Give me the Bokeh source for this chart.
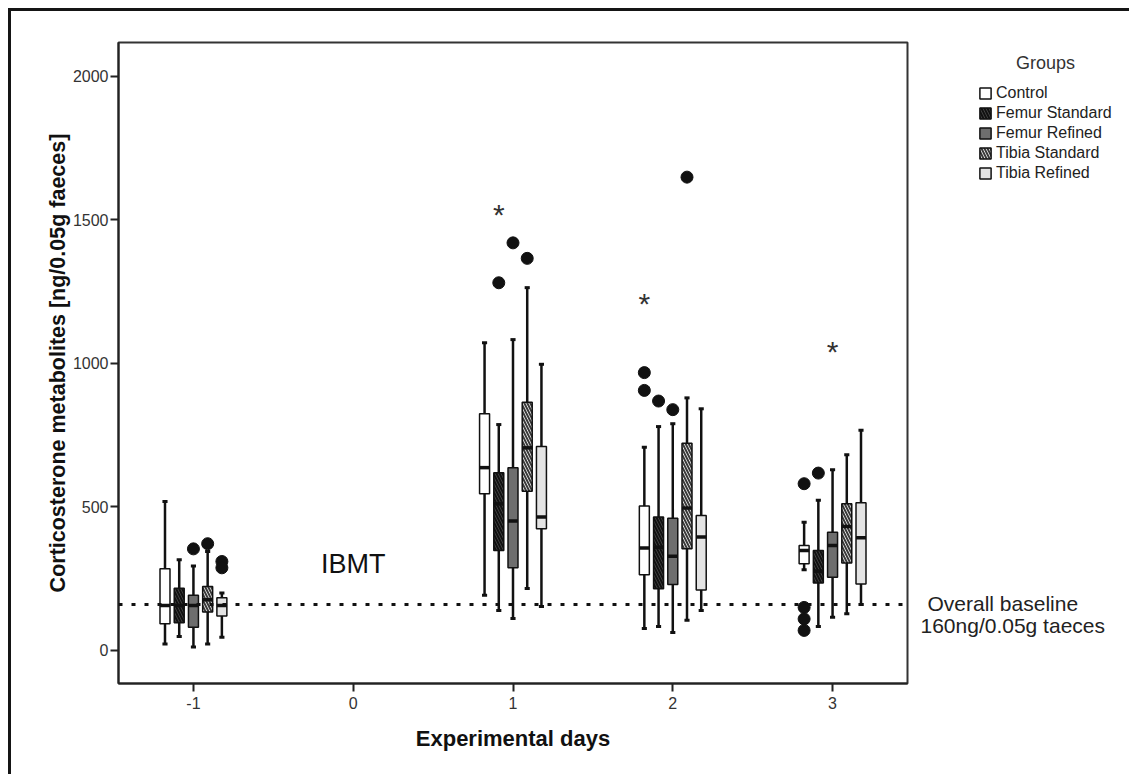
from bokeh.plotting import figure
from bokeh.layouts import row
from bokeh.models import Range1d, Span, Label, Legend, LegendItem, ColumnDataSource, FixedTicker
from bokeh.embed import file_html
from bokeh.resources import INLINE
from bokeh.core.properties import value

# ---------------- data ----------------
groups = ["Control", "Femur Standard", "Femur Refined", "Tibia Standard", "Tibia Refined"]
days = [-1, 1, 2, 3]
day_ticks = [-1, 0, 1, 2, 3]
day_tick_labels = {-1: "-1", 0: "0", 1: "1", 2: "2", 3: "3"}
y_ticks = [0, 500, 1000, 1500, 2000]
baseline = 160

# box statistics per group, one value per day in `days`
whisker_low = {
    "Control":        [23, 192, 77, 281],
    "Femur Standard": [49, 139, 84, 84],
    "Femur Refined":  [12, 111, 63, 116],
    "Tibia Standard": [23, 216, 105, 128],
    "Tibia Refined":  [46, 153, 139, 160],
}
q1 = {
    "Control":        [93, 546, 264, 302],
    "Femur Standard": [97, 348, 215, 235],
    "Femur Refined":  [81, 288, 230, 255],
    "Tibia Standard": [134, 555, 354, 305],
    "Tibia Refined":  [120, 424, 211, 232],
}
median = {
    "Control":        [157, 637, 357, 348],
    "Femur Standard": [157, 511, 360, 276],
    "Femur Refined":  [157, 451, 328, 366],
    "Tibia Standard": [177, 706, 496, 432],
    "Tibia Refined":  [157, 465, 395, 393],
}
q3 = {
    "Control":        [285, 825, 503, 366],
    "Femur Standard": [217, 619, 465, 348],
    "Femur Refined":  [192, 637, 461, 412],
    "Tibia Standard": [223, 865, 722, 511],
    "Tibia Refined":  [184, 711, 470, 515],
}
whisker_high = {
    "Control":        [519, 1072, 708, 447],
    "Femur Standard": [316, 787, 780, 523],
    "Femur Refined":  [294, 1083, 790, 630],
    "Tibia Standard": [345, 1264, 880, 682],
    "Tibia Refined":  [200, 997, 842, 767],
}
# outliers (circles) and extremes (stars)
outlier_day = [-1, -1, -1, -1, 1, 1, 1, 2, 2, 2, 2, 2, 3, 3, 3, 3, 3]
outlier_group = ["Femur Refined", "Tibia Standard", "Tibia Refined", "Tibia Refined",
                 "Femur Standard", "Femur Refined", "Tibia Standard",
                 "Control", "Control", "Femur Standard", "Femur Refined", "Tibia Standard",
                 "Control", "Control", "Control", "Control", "Femur Standard"]
outlier_value = [354, 372, 310, 288,
                 1281, 1420, 1366,
                 968, 906, 869, 839, 1649,
                 581, 150, 110, 70, 618]
extreme_day = [1, 2, 3]
extreme_group = ["Femur Standard", "Control", "Femur Refined"]
extreme_value = [1540, 1231, 1063]

# ---------------- style ----------------
offset = dict(zip(groups, [-0.178, -0.089, 0.0, 0.089, 0.178]))
fill = {"Control": "white", "Femur Standard": "#4d4d4d", "Femur Refined": "#6e6e6e",
        "Tibia Standard": "white", "Tibia Refined": "#e4e4e4"}
hatch = {"Control": None, "Femur Standard": "\\", "Femur Refined": None,
         "Tibia Standard": "\\", "Tibia Refined": None}
hatch_col = {"Femur Standard": "#111111", "Tibia Standard": "#3a3a3a"}
box_w = 0.0625
cap_w = 0.016
FONT = "Liberation Sans"
H = 763


def box_style(g):
    kw = dict(fill_color=fill[g], line_color="#111111", line_width=1.5)
    if hatch[g]:
        kw.update(hatch_pattern=hatch[g], hatch_color=hatch_col[g], hatch_scale=6, hatch_weight=2)
    return kw


yr = Range1d(-115, 2118)
p = figure(width=900, height=H,
           x_range=Range1d(-1.469, 3.469), y_range=yr,
           output_backend="svg", toolbar_location=None,
           min_border_left=107, min_border_right=4, min_border_top=31, min_border_bottom=91)
p.grid.visible = False
p.outline_line_color = "#333333"
p.outline_line_width = 2
p.background_fill_color = "white"
p.border_fill_color = "white"

for ax in (p.xaxis[0], p.yaxis[0]):
    ax.axis_line_color = "#222222"
    ax.axis_line_width = 2
    ax.major_tick_line_width = 2
    ax.major_tick_line_color = "#222222"
    ax.major_tick_out = 8
    ax.major_tick_in = 0
    ax.minor_tick_line_color = None
    ax.major_label_text_font = FONT
    ax.major_label_text_font_size = "16px"
    ax.major_label_text_color = "#333333"
    ax.axis_label_text_font = FONT
    ax.axis_label_text_font_style = "bold"
    ax.axis_label_text_color = "#111111"

p.xaxis.ticker = FixedTicker(ticks=day_ticks)
p.xaxis.major_label_overrides = day_tick_labels
p.yaxis.ticker = FixedTicker(ticks=y_ticks)
p.xaxis.axis_label = "Experimental days"
p.xaxis.axis_label_text_font_size = "22px"
p.xaxis.axis_label_standoff = 14
p.xaxis.major_label_standoff = 5
p.yaxis.axis_label = "Corticosterone metabolites [ng/0.05g faeces]"
p.yaxis.axis_label_text_font_size = "21.5px"
p.yaxis.axis_label_standoff = 0
p.yaxis.major_label_standoff = 2

# baseline
p.add_layout(Span(location=baseline, dimension="width", line_color="#111111",
                  line_width=3, line_dash="4 9"))

sources = {}
for g in groups:
    xs = [d + offset[g] for d in days]
    src = ColumnDataSource(dict(
        x=xs, low=whisker_low[g], q1=q1[g], med=median[g], q3=q3[g], high=whisker_high[g],
        xl=[x - box_w / 2 for x in xs], xr=[x + box_w / 2 for x in xs],
        cl=[x - cap_w for x in xs], cr=[x + cap_w for x in xs],
    ))
    sources[g] = src
    p.segment(x0="x", y0="low", x1="x", y1="high", source=src, line_color="#111111", line_width=2.5)
    p.segment(x0="cl", y0="low", x1="cr", y1="low", source=src, line_color="#111111", line_width=3)
    p.segment(x0="cl", y0="high", x1="cr", y1="high", source=src, line_color="#111111", line_width=3)
    p.vbar(x="x", width=box_w, bottom="q1", top="q3", source=src, **box_style(g))
    p.segment(x0="xl", y0="med", x1="xr", y1="med", source=src, line_color="#111111", line_width=3.5)

ox = [d + offset[g] for d, g in zip(outlier_day, outlier_group)]
p.scatter(ox, outlier_value, size=12, fill_color="#111111", line_color="#111111")

ex = [d + offset[g] for d, g in zip(extreme_day, extreme_group)]
p.text(ex, extreme_value, text=["*"] * len(ex), text_font=value(FONT), text_font_size="30px",
       text_align="center", text_baseline="middle", text_color="#333333", y_offset=6)

p.add_layout(Label(x=0, y=300, text="IBMT", text_font=FONT, text_font_size="27px",
                   text_color="#111111", text_align="center", text_baseline="middle"))

# ---------------- right-hand side: legend and baseline note ----------------
# x axis of this panel is in pixels; the box renderers here only feed the legend
# (their data lie far outside this panel's x range, so nothing of them is visible).
X0 = 1000
SW = 218
s = figure(width=SW, height=H, x_range=Range1d(X0, X0 + SW), y_range=yr,
           output_backend="svg", toolbar_location=None,
           x_axis_location=None, y_axis_location=None,
           min_border_left=0, min_border_right=0, min_border_top=31, min_border_bottom=91)
s.grid.visible = False
s.outline_line_color = None
s.border_fill_color = "white"

items = []
for g in groups:
    r = s.rect(x="x", y="med", width=box_w, height=1, source=sources[g], **box_style(g))
    items.append(LegendItem(label=g, renderers=[r]))
legend = Legend(items=items, location=(67, 500), border_line_color=None,
                background_fill_alpha=0, glyph_width=14, glyph_height=14, label_height=20,
                spacing=0, padding=0, margin=0, label_standoff=4,
                label_text_font=FONT, label_text_font_size="16px", label_text_color="#222222")
s.add_layout(legend)
s.add_layout(Label(x=X0 + 134, y=2045, text="Groups", text_font=FONT, text_font_size="18px",
                   text_color="#333333", text_align="center", text_baseline="middle"))
s.add_layout(Label(x=X0 + 16, y=164, text="Overall baseline", text_font=FONT,
                   text_font_size="21px", text_color="#222222", text_baseline="alphabetic"))
s.add_layout(Label(x=X0 + 9, y=87, text="160ng/0.05g taeces", text_font=FONT,
                   text_font_size="21px", text_color="#222222", text_baseline="alphabetic"))

layout = row(p, s)
layout.styles = {"margin-left": "8px", "margin-top": "8px",
                 "border-top": "3px solid #151515", "border-left": "3px solid #151515"}

open("out.html", "w").write(file_html(layout, INLINE))
